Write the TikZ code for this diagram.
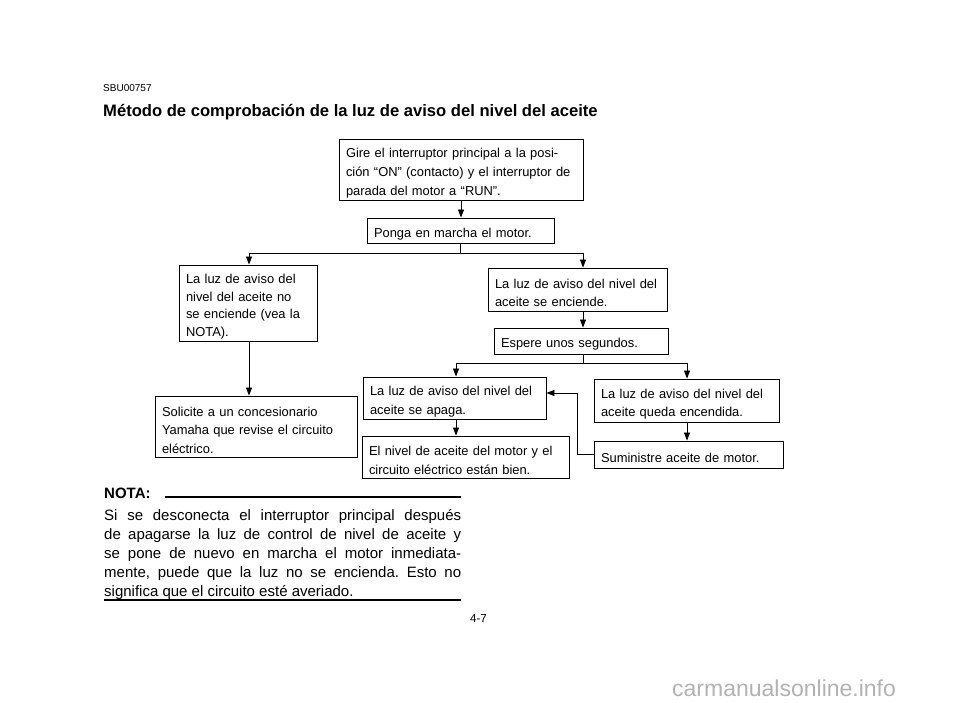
\documentclass[tikz,border=0pt]{standalone}
\usepackage{fontspec}
\setmainfont{Liberation Sans}
\usetikzlibrary{arrows.meta}

\newcommand{\boxlift}{\rule{0pt}{16.5pt}}

\tikzset{
  flowbox/.style={draw,line width=0.9pt,inner xsep=7pt,inner ysep=0pt,align=left,
    font=\fontsize{12.9}{18.5}\selectfont},
  arr/.style={line width=0.8pt,-{Triangle[length=8pt,width=6pt]}},
  plain/.style={inner sep=0pt,anchor=base west}
}

\begin{document}
\frenchspacing
\begin{tikzpicture}[x=1pt,y=-1pt]
\useasboundingbox (0,0) rectangle (960,703);

% heading
\node[plain,font=\fontsize{10}{12}\selectfont] (code) at (103,92) {SBU00757};
\node[plain,font=\fontsize{16.6}{20}\selectfont\bfseries] (title) at (103,117)
  {Método de comprobación de la luz de aviso del nivel del aceite};

% boxes
\node[flowbox,text width=230pt,minimum height=61pt,font=\fontsize{12.9}{19}\selectfont] (gire) at (461,169.5)
  {\boxlift Gire el interruptor principal a la posi-\\ción “ON” (contacto) y el interruptor de\\parada del motor a “RUN”.};
\node[flowbox,text width=173pt,minimum height=25pt] (ponga) at (460.5,230.5)
  {\boxlift Ponga en marcha el motor.};
\node[flowbox,text width=124pt,minimum height=76pt,font=\fontsize{12.9}{17.4}\selectfont] (noenc) at (248,303)
  {\boxlift La luz de aviso del\\nivel del aceite no\\se enciende (vea la\\NOTA).};
\node[flowbox,text width=165pt,minimum height=43pt] (enc) at (577.5,289.5)
  {\boxlift La luz de aviso del nivel del\\aceite se enciende.};
\node[flowbox,text width=160pt,minimum height=26pt] (espere) at (581,341)
  {\boxlift Espere unos segundos.};
\node[flowbox,text width=188pt,minimum height=61pt] (solicite) at (256,426.5)
  {\boxlift Solicite a un concesionario\\Yamaha que revise el circuito\\eléctrico.};
\node[flowbox,text width=169pt,minimum height=42pt] (apaga) at (454.5,398)
  {\boxlift La luz de aviso del nivel del\\aceite se apaga.};
\node[flowbox,text width=171pt,minimum height=43pt] (queda) at (686.5,400.5)
  {\boxlift La luz de aviso del nivel del\\aceite queda encendida.};
\node[flowbox,text width=193pt,minimum height=42pt] (bien) at (465.5,457)
  {\boxlift El nivel de aceite del motor y el\\circuito eléctrico están bien.};
\node[flowbox,text width=175pt,minimum height=27pt] (suministre) at (688.5,454.5)
  {\boxlift Suministre aceite de motor.};

% connectors
\draw[arr] (gire.south) -- (gire.south |- ponga.north);
\draw[arr] (ponga.south) -- ++(0,10) -| ([xshift=1pt]noenc.north);
\draw[arr] (ponga.south) -- ++(0,10) -| ([xshift=5.5pt]enc.north);
\draw[arr] ([xshift=5.5pt]enc.south) -- ([xshift=5.5pt]enc.south |- espere.north);
\draw[arr] ([xshift=2pt]espere.south) -- ++(0,9) -| ([xshift=1.5pt]apaga.north);
\draw[arr] ([xshift=2pt]espere.south) -- ++(0,9) -| ([xshift=0.5pt]queda.north);
\draw[arr] ([xshift=1pt]noenc.south) -- ([xshift=1pt]noenc.south |- solicite.north);
\draw[arr] ([xshift=1.5pt]apaga.south) -- ([xshift=1.5pt]apaga.south |- bien.north);
\draw[arr] ([xshift=0.5pt]queda.south) -- ([xshift=0.5pt]queda.south |- suministre.north);
\draw[arr] (suministre.west) -- ++(-16,0) |- ([yshift=5pt]apaga.east);

% note
\node[plain,font=\fontsize{15}{19}\selectfont\bfseries] (nota) at (104,498) {NOTA:};
\draw[line width=1.2pt] (165,497) -- (461,497);
\node[anchor=north west,inner sep=0pt,text width=357pt,align=justify,
  font=\fontsize{15}{19}\selectfont] (notatext) at (104,509)
  {Si se desconecta el interruptor principal después\linebreak
   de apagarse la luz de control de nivel de aceite y\linebreak
   se pone de nuevo en marcha el motor inmediata-\linebreak
   mente, puede que la luz no se encienda. Esto no\linebreak
   significa que el circuito esté averiado.};
\draw[line width=2pt] (104,599.5) -- (461,599.5);

% page number and mark
\node[plain,font=\fontsize{11.5}{13}\selectfont] (page) at (470,622) {4-7};
\node[plain,font=\fontsize{23}{26}\selectfont,text=black!30] (mark) at (672,696)
  {carmanualsonline.info};
\end{tikzpicture}
\end{document}
